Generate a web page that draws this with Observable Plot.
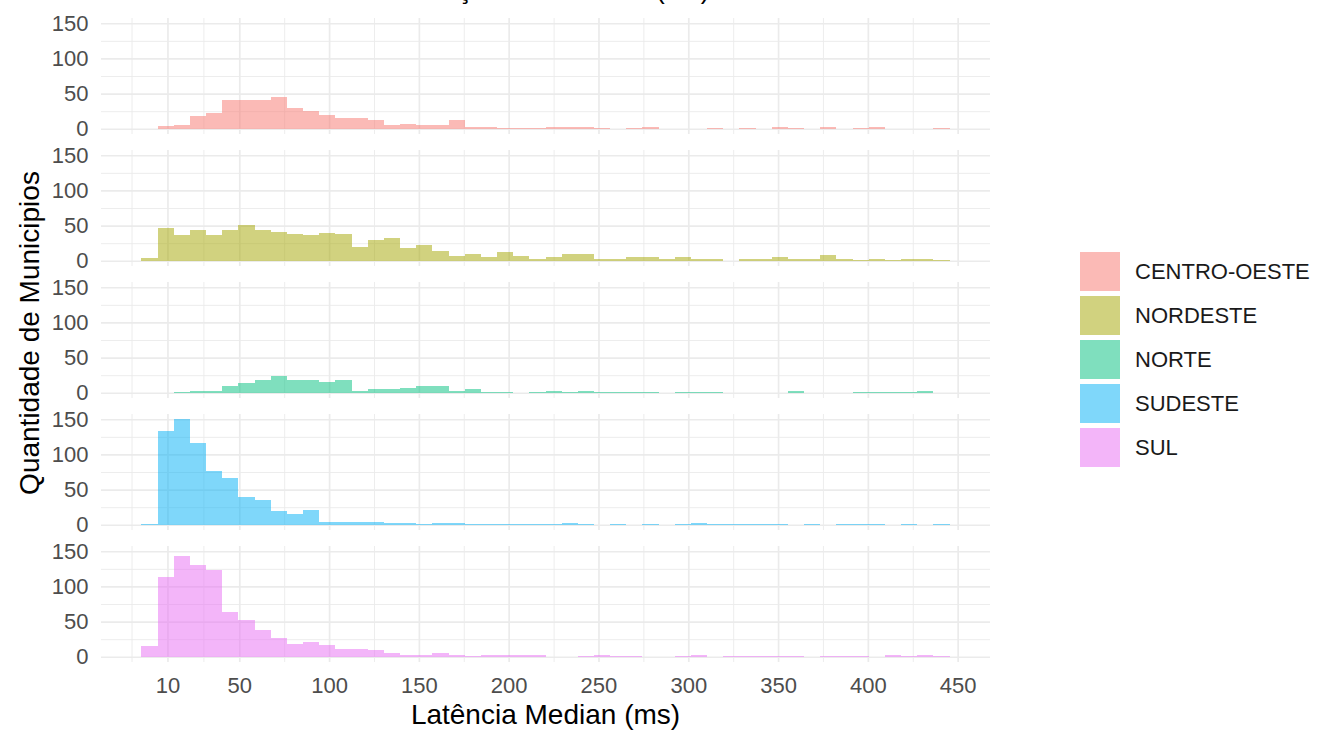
<!DOCTYPE html>
<html>
<head>
<meta charset="utf-8">
<script src="https://cdn.jsdelivr.net/npm/d3@7"></script>
<script src="https://cdn.jsdelivr.net/npm/@observablehq/plot@0.6"></script>
<style>
  html, body { margin: 0; padding: 0; background: #fff; overflow: hidden; }
  #wrap { position: relative; width: 1317px; height: 730px; overflow: hidden; font-family: "Liberation Sans", Arial, sans-serif; }
  #chart { position: absolute; left: 0; top: 0; }
  #title { position: absolute; left: 0; width: 1070px; text-align: center; top: -24px; font-size: 27px; line-height: 27px; color: #000; white-space: nowrap; }
  #xtitle { position: absolute; left: 101px; width: 889px; text-align: center; top: 701px; font-size: 28px; line-height: 28px; color: #000; white-space: nowrap; }
  #ytitle { position: absolute; left: 30px; top: 333px; font-size: 28px; line-height: 28px; color: #000; white-space: nowrap; transform: translate(-50%, -50%) rotate(-90deg); }
  #legend { position: absolute; left: 1080px; top: 252px; }
  .item { display: flex; align-items: center; height: 39px; margin-bottom: 5px; }
  .key { width: 40px; height: 39px; margin-right: 15px; }
  .lab { font-size: 22px; color: #1a1a1a; }
</style>
</head>
<body>
<div id="wrap">
  <div id="chart"></div>
  <div id="title">Distribuição da Latência (ms)</div>
  <div id="xtitle">Latência Median (ms)</div>
  <div id="ytitle">Quantidade de Municipios</div>
  <div id="legend"></div>
</div>
<script>
// ---- data ----
const regions = ["CENTRO-OESTE", "NORDESTE", "NORTE", "SUDESTE", "SUL"];
const colors = ["#F8766D", "#A3A500", "#00BF7D", "#00B0F6", "#E76BF3"];
const binWidth = 9;
const binCenters = [0, 9, 18, 27, 36, 45, 54, 63, 72, 81, 90, 99, 108, 117, 126, 135, 144, 153, 162, 171,
  180, 189, 198, 207, 216, 225, 234, 243, 252, 261, 270, 279, 288, 297, 306, 315, 324, 333, 342, 351,
  360, 369, 378, 387, 396, 405, 414, 423, 432, 441];
const centroOeste = [0, 4, 6, 18, 23, 41, 41, 41, 45, 30, 25, 20, 15, 15, 12, 6, 7, 6, 6, 12,
  2, 3, 1, 1, 1, 2, 2, 2, 1, 0, 1, 2, 0, 0, 0, 1, 0, 1, 0, 2,
  1, 0, 2, 0, 1, 2, 0, 0, 0, 1];
const nordeste = [4, 46, 37, 44, 37, 43, 51, 44, 41, 38, 37, 40, 38, 19, 30, 32, 18, 22, 14, 7,
  10, 6, 12, 7, 3, 5, 10, 10, 3, 3, 5, 5, 3, 6, 2, 3, 0, 3, 2, 5,
  3, 3, 8, 3, 1, 3, 1, 2, 2, 1];
const norte = [0, 0, 1, 2, 2, 10, 14, 18, 24, 18, 18, 15, 18, 2, 5, 5, 7, 9, 10, 2,
  6, 1, 1, 0, 1, 3, 1, 2, 1, 1, 1, 1, 0, 1, 1, 1, 0, 0, 0, 0,
  3, 0, 0, 0, 1, 1, 1, 1, 2, 0];
const sudeste = [1, 133, 150, 116, 77, 67, 39, 35, 19, 15, 21, 4, 4, 4, 4, 2, 2, 1, 2, 2,
  1, 1, 1, 1, 1, 1, 3, 1, 0, 1, 0, 1, 0, 1, 2, 1, 1, 1, 1, 1,
  0, 1, 0, 1, 1, 1, 0, 1, 0, 1];
const sul = [15, 114, 143, 130, 124, 64, 52, 38, 26, 18, 21, 16, 11, 11, 9, 6, 3, 2, 6, 3,
  1, 3, 2, 2, 2, 0, 0, 1, 2, 1, 1, 0, 0, 1, 3, 0, 1, 1, 1, 1,
  1, 0, 1, 1, 1, 0, 2, 1, 2, 1];
const xTicks = [10, 50, 100, 150, 200, 250, 300, 350, 400, 450];
const xMinor = [-10, 30, 75, 125, 175, 225, 275, 325, 375, 425];
const yTicks = [0, 50, 100, 150];
const yMinor = [25, 75, 125];

// ---- build table ----
const seriesByRegion = [centroOeste, nordeste, norte, sudeste, sul];
const rows = [];
regions.forEach((r, k) => {
  seriesByRegion[k].forEach((c, i) => {
    if (c > 0) rows.push({region: r, center: binCenters[i], count: c});
  });
});

const grid = "#ebebeb";
const chart = Plot.plot({
  width: 1040,
  height: 730,
  marginLeft: 101,
  marginRight: 50,
  marginTop: 17,
  marginBottom: 67,
  style: {fontFamily: "'Liberation Sans', Arial, sans-serif", background: "#fff", overflow: "visible"},
  x: {domain: [-27, 468], axis: null},
  y: {domain: [-7.5, 157.5], axis: null},
  fy: {domain: regions, axis: null, paddingInner: 0.118, paddingOuter: 0},
  color: {domain: regions, range: colors},
  marks: [
    Plot.ruleY(yMinor, {stroke: grid, strokeWidth: 0.9}),
    Plot.ruleY(yTicks, {stroke: grid, strokeWidth: 1.7}),
    Plot.ruleX(xMinor, {stroke: grid, strokeWidth: 0.9}),
    Plot.ruleX(xTicks, {stroke: grid, strokeWidth: 1.7}),
    Plot.rectY(rows, {
      x1: d => d.center - binWidth / 2,
      x2: d => d.center + binWidth / 2,
      y1: 0,
      y2: "count",
      fy: "region",
      fill: "region",
      fillOpacity: 0.5,
      shapeRendering: "crispEdges"
    }),
    Plot.axisY(yTicks, {anchor: "left", tickSize: 0, tickPadding: 13, fontSize: 22, fill: "#4d4d4d", label: null}),
    Plot.axisX(xTicks, {anchor: "bottom", tickSize: 0, tickPadding: 15, fontSize: 22, fill: "#4d4d4d", label: null})
  ]
});
document.getElementById("chart").appendChild(chart);

// ---- legend ----
const legend = document.getElementById("legend");
regions.forEach((r, k) => {
  const item = document.createElement("div");
  item.className = "item";
  const key = document.createElement("div");
  key.className = "key";
  const c = d3.color(colors[k]);
  c.opacity = 0.5;
  key.style.background = c.formatRgb();
  const lab = document.createElement("div");
  lab.className = "lab";
  lab.textContent = r;
  item.appendChild(key);
  item.appendChild(lab);
  legend.appendChild(item);
});
</script>
</body>
</html>
